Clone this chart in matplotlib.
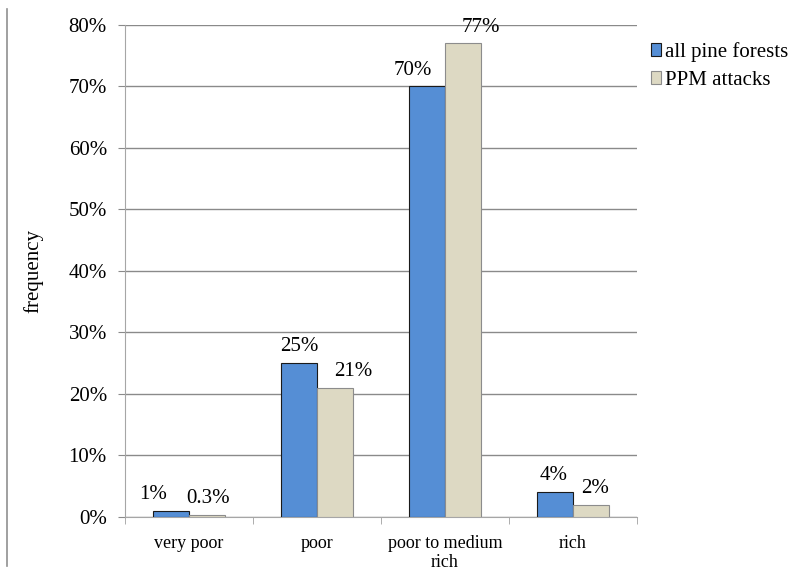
import numpy as np
import matplotlib
matplotlib.use('Agg')
from matplotlib import pyplot as plt
from matplotlib.lines import Line2D

plt.rcParams['font.family'] = ['Liberation Serif', 'DejaVu Serif']

categories = ['very poor', 'poor', 'poor to medium\nrich', 'rich']
all_pine = [1, 25, 70, 4]
ppm = [0.3, 21, 77, 2]
all_pine_labels = ['1%', '25%', '70%', '4%']
ppm_labels = ['0.3%', '21%', '77%', '2%']

fig = plt.figure(figsize=(7.93, 5.72), dpi=100)
ax = fig.add_axes([0.1576, 0.0962, 0.8033 - 0.1576, 0.9563 - 0.0962])

x = np.arange(len(categories))
w = 0.28
b1 = ax.bar(x - w / 2, all_pine, w, color='#558ed5', edgecolor='#1a1a1a', linewidth=0.8,
            label='all pine forests', zorder=3)
b2 = ax.bar(x + w / 2, ppm, w, color='#ddd9c3', edgecolor='#8c8c8c', linewidth=0.8,
            label='PPM attacks', zorder=3)

# small sideways nudges so neighbouring labels don't collide
dx1 = [-13, 0, -10, -1]
dx2 = [1, 13, 13, 3]
for rect, txt, dx in zip(b1, all_pine_labels, dx1):
    ax.annotate(txt, (rect.get_x() + rect.get_width() / 2, rect.get_height()),
                xytext=(dx, 5), textcoords='offset points', ha='center', va='bottom', fontsize=15)
for rect, txt, dx in zip(b2, ppm_labels, dx2):
    ax.annotate(txt, (rect.get_x() + rect.get_width() / 2, rect.get_height()),
                xytext=(dx, 5), textcoords='offset points', ha='center', va='bottom', fontsize=15)

ax.set_xlim(-0.5, len(categories) - 0.5)
ax.set_ylim(0, 80)
ax.set_yticks(np.arange(0, 81, 10))
ax.set_yticklabels(['%d%%' % v for v in range(0, 81, 10)], fontsize=15)
ax.yaxis.grid(True, color='#8a8a8a', linewidth=1.0, zorder=0)
ax.tick_params(axis='y', length=5, color='#8a8a8a', pad=8)

ax.set_xticks(x)
ax.set_xticklabels(categories, fontsize=13, linespacing=1.15)
ax.set_xticks(np.arange(-0.5, len(categories)), minor=True)
ax.tick_params(axis='x', which='major', length=0, pad=13)
ax.tick_params(axis='x', which='minor', length=5, color='#a0a0a0')

for s in ['top', 'right']:
    ax.spines[s].set_visible(False)
ax.spines['left'].set_color('#a6a6a6')
ax.spines['bottom'].set_color('#a6a6a6')

ax.set_ylabel('frequency', fontsize=15, labelpad=18)

fig.legend(loc='upper left', bbox_to_anchor=(0.797, 0.96), frameon=False, fontsize=15,
           handlelength=0.5, handleheight=0.6, handletextpad=0.2, labelspacing=0.45)

fig.add_artist(Line2D([0.009, 0.009], [0.01, 0.985], color='#909090', linewidth=1.2))

fig.savefig('out.png', dpi=100)
